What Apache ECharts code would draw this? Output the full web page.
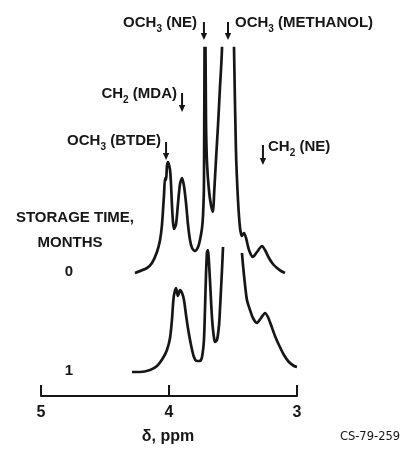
<!DOCTYPE html>
<html><head><meta charset="utf-8">
<script src="https://cdn.jsdelivr.net/npm/echarts@6/dist/echarts.min.js"></script>
<style>html,body{margin:0;padding:0;background:#fff}#c{width:414px;height:449px}</style>
</head><body><div id="c"></div>
<script>
// ---- data (chemical shift in ppm, intensity in arbitrary units above each trace's baseline) ----
const ppm0 = [4.266, 4.172, 4.133, 4.094, 4.070, 4.055, 4.039, 4.031, 4.023, 4.016, 4.008, 3.992, 3.984, 3.977, 3.969, 3.961, 3.945, 3.930, 3.914, 3.898, 3.883, 3.867, 3.852, 3.836, 3.820, 3.797, 3.773, 3.758, 3.742, 3.734, 3.727, 3.719, 3.711, 3.703, 3.688, 3.672, 3.656, 3.648, 3.633, 3.617, 3.602, 3.586, 3.543, 3.492, 3.477, 3.461, 3.445, 3.430, 3.414, 3.398, 3.375, 3.344, 3.313, 3.273, 3.250, 3.219, 3.188, 3.156, 3.125, 3.094];
const int0 = [0, 5, 10, 21, 33, 48, 78, 95, 93, 107, 111, 103, 88, 68, 51, 44, 49, 69, 89, 95, 87, 70, 49, 33, 25, 22, 26, 33, 45, 58, 88, 300, 153, 110, 83, 68, 61, 78, 113, 148, 185, 225, 600, 225, 123, 73, 45, 37, 40, 35, 23, 16, 21, 27, 23, 15, 9, 5, 2, 0];
const ppm1 = [4.289, 4.227, 4.148, 4.094, 4.047, 4.016, 3.992, 3.977, 3.969, 3.961, 3.945, 3.930, 3.914, 3.898, 3.883, 3.867, 3.852, 3.828, 3.805, 3.781, 3.758, 3.742, 3.727, 3.719, 3.711, 3.703, 3.695, 3.688, 3.680, 3.672, 3.664, 3.656, 3.648, 3.641, 3.625, 3.609, 3.602, 3.594, 3.586, 3.578, 3.500, 3.430, 3.422, 3.406, 3.391, 3.367, 3.344, 3.313, 3.281, 3.250, 3.227, 3.203, 3.172, 3.141, 3.102, 3.063, 3.023, 3.000];
const int1 = [0, 0, 2, 6, 14, 22, 34, 52, 67, 77, 84, 76, 82, 79, 72, 57, 44, 27, 15, 11, 11, 15, 32, 62, 97, 120, 122, 110, 92, 72, 54, 42, 34, 30, 32, 47, 62, 82, 102, 125, null, 119, 107, 87, 72, 62, 54, 49, 54, 59, 55, 47, 36, 27, 17, 10, 6, 5];
const storageTimes = ['0', '1'];
const xTicks = [5, 4, 3];
const peakNames = ['OCH\u2083 (NE)', 'OCH\u2083 (METHANOL)', 'CH\u2082 (MDA)', 'OCH\u2083 (BTDE)', 'CH\u2082 (NE)'];
const peakPpm = [3.727, 3.539, 3.898, 4.023, 3.266];
const xTitle = '\u03b4, ppm';
const figId = 'CS-79-259';

// ---- layout ----
const OFFSET = [123, 24];           // vertical offset of each stacked trace
const INK = '#161616';
const FONT = '"Liberation Sans", Arial, sans-serif';

function build(ppm, ints, off) {
  return ppm.map((p, i) => [p, ints[i] === null ? '-' : ints[i] + off]);
}

const chart = echarts.init(document.getElementById('c'));
const RICH = {
  n: { fontFamily: FONT, fontWeight: 'bold', fontSize: 15, lineHeight: 22, fill: INK, color: INK },
  s: { fontFamily: FONT, fontWeight: 'bold', fontSize: 10, lineHeight: 10, verticalAlign: 'bottom', fill: INK, color: INK }
};
function richStr(name) {
  const parts = [];
  let cur = '';
  for (const ch of name) {
    if (ch === '\u2082' || ch === '\u2083') {
      if (cur) parts.push('{n|' + cur + '}');
      cur = '';
      parts.push('{s|' + (ch === '\u2082' ? '2' : '3') + '}');
    } else cur += ch;
  }
  if (cur) parts.push('{n|' + cur + '}');
  return parts.join('');
}

chart.setOption({
  animation: false,
  backgroundColor: '#fff',
  grid: { left: 41, right: 117, top: 48, bottom: 53 },
  xAxis: {
    type: 'value', min: 3, max: 5, interval: 1, inverse: true,
    axisLine: { lineStyle: { color: INK, width: 2 } },
    axisTick: { inside: true, length: 11, lineStyle: { color: INK, width: 2 } },
    axisLabel: { color: INK, fontSize: 16, fontWeight: 'bold', fontFamily: FONT, margin: 9,
      formatter: v => xTicks.includes(v) ? String(v) : '' },
    splitLine: { show: false }
  },
  yAxis: { type: 'value', min: 0, max: 348, show: false, splitLine: { show: false } },
  series: [
    { type: 'line', data: build(ppm0, int0, OFFSET[0]), showSymbol: false, smooth: 0.25, clip: true,
      lineStyle: { color: INK, width: 2.7 } },
    { type: 'line', data: build(ppm1, int1, OFFSET[1]), showSymbol: false, smooth: 0.25, clip: true, connectNulls: false,
      lineStyle: { color: INK, width: 2.7 } }
  ]
});

// annotations
const arrowY = [[22, 40], [22, 40], [93, 112], [142, 160], [145, 165]];
const labelPos = [
  { x: 197, y: 23, align: 'right' },
  { x: 235, y: 23, align: 'left' },
  { x: 177, y: 94, align: 'right' },
  { x: 161, y: 141, align: 'right' },
  { x: 268, y: 147, align: 'left' }
];
const g = [];
peakNames.forEach((nm, i) => {
  const px = chart.convertToPixel({ gridIndex: 0 }, [peakPpm[i], 0])[0];
  const [y1, y2] = arrowY[i];
  g.push({ type: 'line', shape: { x1: px, y1: y1, x2: px, y2: y2 - 5 }, style: { stroke: INK, lineWidth: 2 } });
  g.push({ type: 'polygon', shape: { points: [[px - 3.2, y2 - 7], [px + 3.2, y2 - 7], [px, y2]] }, style: { fill: INK } });
  g.push({ type: 'text', x: labelPos[i].x, y: labelPos[i].y,
    style: { text: richStr(nm), rich: RICH, align: labelPos[i].align, verticalAlign: 'middle', fill: INK,
      fontFamily: FONT, fontWeight: 'bold', fontSize: 15 } });
});
const plain = (t, x, y, size, align, weight) => ({ type: 'text', x, y,
  style: { text: t, fill: INK, fontFamily: FONT, fontWeight: weight || 'bold', fontSize: size, align: align || 'center', verticalAlign: 'middle' } });
g.push(plain('STORAGE TIME,', 75, 218, 15));
g.push(plain('MONTHS', 70, 243, 15));
const yTime = [OFFSET[0], OFFSET[1]].map(o => chart.convertToPixel({ gridIndex: 0 }, [5, o])[1]);
storageTimes.forEach((t, i) => g.push(plain(t, 69, yTime[i] - 1, 15)));
g.push(plain(xTitle, 168, 437, 16));
g.push({ type: 'text', x: 370, y: 437,
  style: { text: figId, fill: INK, fontFamily: '"DejaVu Sans", sans-serif', fontSize: 11.5, align: 'center', verticalAlign: 'middle' } });
chart.setOption({ graphic: g });
</script>
</body></html>
